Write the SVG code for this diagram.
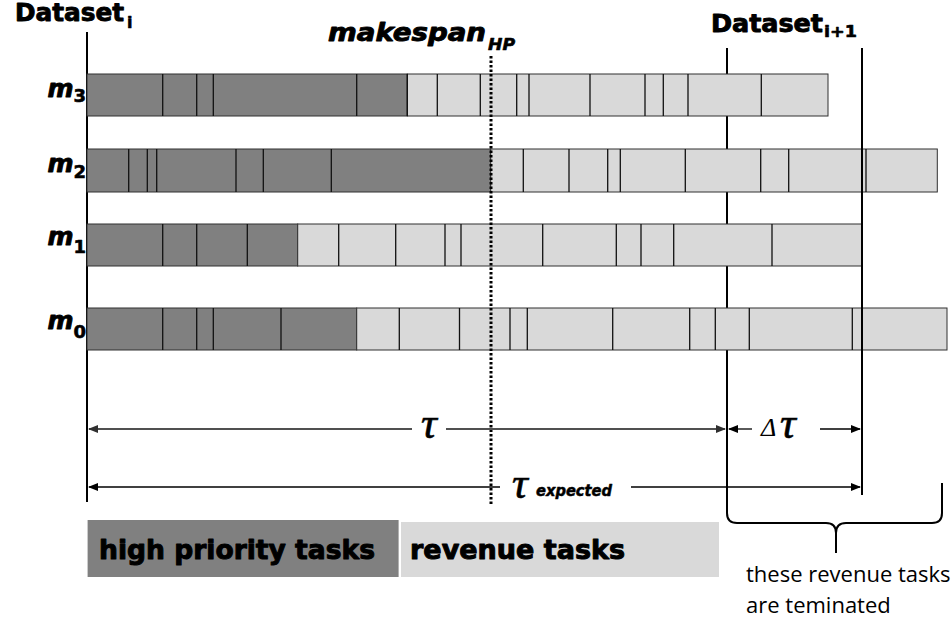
<svg xmlns="http://www.w3.org/2000/svg" width="952" height="623" viewBox="0 0 952 623">
<defs>
<style>
.hd{font-family:"DejaVu Sans","Liberation Sans",sans-serif;font-weight:bold;font-size:24px;fill:#000;stroke:#000;stroke-width:0.9;stroke-linejoin:round}
.hdsub{font-family:"DejaVu Sans","Liberation Sans",sans-serif;font-weight:bold;font-size:16px;fill:#000;stroke:#000;stroke-width:0.6;stroke-linejoin:round}
.mk{font-family:"DejaVu Sans","Liberation Sans",sans-serif;font-weight:bold;font-style:italic;font-size:24px;fill:#000;stroke:#000;stroke-width:0.9;stroke-linejoin:round}
.mksub{font-family:"DejaVu Sans","Liberation Sans",sans-serif;font-weight:bold;font-style:italic;font-size:16px;fill:#000;stroke:#000;stroke-width:0.6;stroke-linejoin:round}
.ml{font-family:"DejaVu Sans","Liberation Sans",sans-serif;font-weight:bold;font-style:italic;font-size:25px;fill:#000;stroke:#000;stroke-width:0.9;stroke-linejoin:round}
.mlsub{font-family:"DejaVu Sans","Liberation Sans",sans-serif;font-weight:bold;font-style:normal;font-size:18px;stroke-width:0.6}
.dark{fill:#808080;stroke:#303030;stroke-width:1}
.light{fill:#d9d9d9;stroke:#303030;stroke-width:1}
.div{stroke:#111;stroke-width:1.3;fill:none}
.vl{stroke:#000;stroke-width:2;fill:none}
.dot{stroke:#000;stroke-width:3;stroke-dasharray:2.5 2;fill:none}
.tarr{stroke:#505050;stroke-width:2;fill:none}
.barr{stroke:#000;stroke-width:1.3;fill:none}
.tau{font-family:"Liberation Serif","DejaVu Serif",serif;font-style:italic;font-size:44px;fill:#000;stroke:#000;stroke-width:0.6}
.delta{font-family:"Liberation Serif","DejaVu Serif",serif;font-style:italic;font-size:26px;fill:#000}
.exp{font-family:"DejaVu Sans","Liberation Sans",sans-serif;font-weight:bold;font-style:italic;font-size:15px;fill:#000;stroke:#000;stroke-width:0.5;stroke-linejoin:round}
.leg{font-family:"DejaVu Sans","Liberation Sans",sans-serif;font-weight:bold;font-size:27px;fill:#000;stroke:#000;stroke-width:1;stroke-linejoin:round}
.note{font-family:"Open Sans","Liberation Sans",sans-serif;font-size:22px;fill:#000}
</style>
<marker id="ahg" markerWidth="10" markerHeight="8" refX="9" refY="4" orient="auto" markerUnits="userSpaceOnUse">
<path d="M0,0 L10,4 L0,8 Z" fill="#303030"/>
</marker>
<marker id="ahb" markerWidth="10" markerHeight="8" refX="9" refY="4" orient="auto" markerUnits="userSpaceOnUse">
<path d="M0,0 L10,4 L0,8 Z" fill="#000"/>
</marker>
</defs>
<rect width="952" height="623" fill="#fff"/>

<g id="guides-back">
<path class="vl" d="M87,32 V502"/>
<path class="vl" d="M727,48 V490"/>
</g>

<g id="row-m3">
<rect class="dark" x="87" y="74" width="320.3" height="42"/>
<rect class="light" x="407.3" y="74" width="420.7" height="42"/>
<path class="div" d="M162.7,74V116M196.7,74V116M213.3,74V116M356.7,74V116M407.3,74V116M437.3,74V116M480.3,74V116M516.7,74V116M529,74V116M590,74V116M645,74V116M663.3,74V116M688,74V116M761.3,74V116"/>
<text class="ml" x="86" y="97" text-anchor="end">m<tspan class="mlsub" dy="5">3</tspan></text>
</g>

<g id="row-m2">
<rect class="dark" x="87" y="149" width="403.7" height="43"/>
<rect class="light" x="490.7" y="149" width="446.6" height="43"/>
<path class="div" d="M128.7,149V192M147.3,149V192M156.7,149V192M236,149V192M263.3,149V192M331.3,149V192M523.3,149V192M569,149V192M607.7,149V192M620.3,149V192M685.3,149V192M760.7,149V192M788.7,149V192M866,149V192"/>
<text class="ml" x="86" y="172" text-anchor="end">m<tspan class="mlsub" dy="6">2</tspan></text>
</g>

<g id="row-m1">
<rect class="dark" x="87" y="224" width="210.7" height="42"/>
<rect class="light" x="297.7" y="224" width="564.3" height="42"/>
<path class="div" d="M162.7,224V266M196.7,224V266M247.3,224V266M338.7,224V266M395.7,224V266M445,224V266M461,224V266M542.7,224V266M616.3,224V266M641,224V266M673.7,224V266M772,224V266"/>
<text class="ml" x="86" y="245" text-anchor="end">m<tspan class="mlsub" dy="8">1</tspan></text>
</g>

<g id="row-m0">
<rect class="dark" x="87" y="308" width="269.7" height="42"/>
<rect class="light" x="356.7" y="308" width="590.3" height="42"/>
<path class="div" d="M162.7,308V350M196.7,308V350M213.3,308V350M281,308V350M399.3,308V350M459.5,308V350M510,308V350M527.3,308V350M612.7,308V350M689.7,308V350M715.3,308V350M749.3,308V350M852.3,308V350"/>
<text class="ml" x="86" y="329" text-anchor="end">m<tspan class="mlsub" dy="9">0</tspan></text>
</g>

<g id="label-dataset-i">
<text class="hd" x="15" y="21" textLength="109" lengthAdjust="spacingAndGlyphs">Dataset</text>
<text class="hdsub" x="127" y="28">i</text>
</g>

<g id="label-dataset-i1">
<text class="hd" x="711" y="31.5" textLength="112" lengthAdjust="spacingAndGlyphs">Dataset</text>
<text class="hdsub" x="824" y="37" textLength="33" lengthAdjust="spacingAndGlyphs">i+1</text>
</g>

<g id="label-makespan">
<text class="mk" x="328" y="41" textLength="158" lengthAdjust="spacingAndGlyphs">makespan</text>
<text class="mksub" x="488" y="50" textLength="27" lengthAdjust="spacingAndGlyphs">HP</text>
</g>

<g id="connectors">
<path class="dot" d="M491,56 V506"/>
<path class="vl" d="M862,48 V495"/>
<path class="tarr" d="M412,429 H89" marker-end="url(#ahg)"/>
<path class="tarr" d="M446,429 H725" marker-end="url(#ahg)"/>
<path class="barr" d="M752,429 H729" marker-end="url(#ahb)"/>
<path class="barr" d="M820,429 H860" marker-end="url(#ahb)"/>
<path class="barr" d="M500,487 H89" marker-end="url(#ahb)"/>
<path class="barr" d="M631,487 H860" marker-end="url(#ahb)"/>
<path class="vl" d="M727,483 V513 Q727,523 737,523 H826 Q836,523 836,533 V553 M836,533 Q836,523 846,523 H932 Q942,523 942,513 V483"/>
</g>

<g id="label-tau">
<text class="tau" x="421" y="438">τ</text>
</g>
<g id="label-delta-tau">
<text class="delta" x="761" y="436">Δ</text>
<text class="tau" x="780" y="438">τ</text>
</g>
<g id="label-tau-expected">
<text class="tau" x="512" y="498">τ</text>
<text class="exp" x="536" y="496" textLength="76" lengthAdjust="spacingAndGlyphs">expected</text>
</g>

<g id="legend-high">
<rect x="87.6" y="520" width="311" height="57" fill="#808080"/>
<text class="leg" x="99" y="559" textLength="276" lengthAdjust="spacingAndGlyphs">high priority tasks</text>
</g>
<g id="legend-revenue">
<rect x="401" y="522" width="318" height="55" fill="#d9d9d9"/>
<text class="leg" x="410" y="559" textLength="215" lengthAdjust="spacingAndGlyphs">revenue tasks</text>
</g>

<g id="note">
<text class="note" x="746" y="582">these revenue tasks</text>
<text class="note" x="746" y="613">are teminated</text>
</g>
</svg>
